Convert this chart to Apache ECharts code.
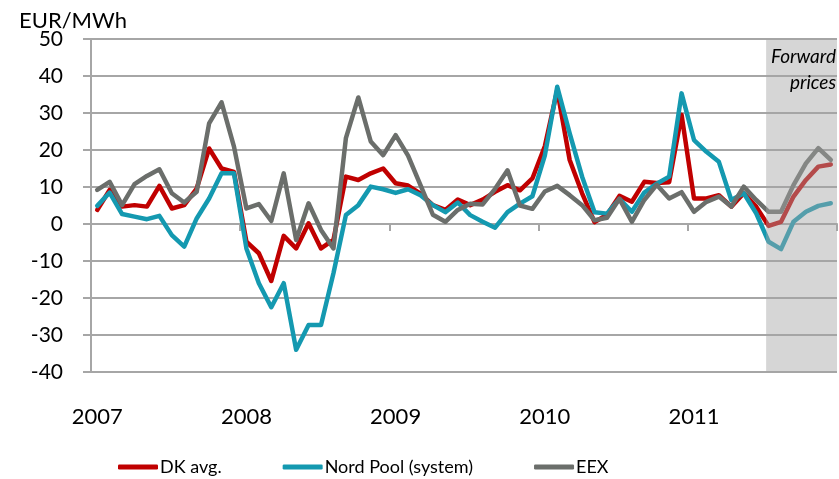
<!DOCTYPE html>
<html>
<head>
<meta charset="utf-8">
<script src="https://cdn.jsdelivr.net/npm/echarts@6/dist/echarts.min.js"></script>
<style>
    html, body { margin: 0; padding: 0; background: #fff; }
    #main { width: 839px; height: 479px; }
</style>
</head>
<body>
<div id="main"></div>
<script>
// years shown on the x axis, one category per month
var years = ['2007', '2008', '2009', '2010', '2011'];
var months = [];
for (var y = 0; y < years.length; y++) {
    for (var m = 1; m <= 12; m++) {
        months.push(years[y] + '-' + (m < 10 ? '0' + m : m));
    }
}

var yTicks = [-40, -30, -20, -10, 0, 10, 20, 30, 40, 50];

// DK avg. (EUR/MWh)
var dkAvg = [
    3.8, 9.2, 4.7, 5.1, 4.7, 10.3, 4.2, 5.1, 9.6, 20.4, 15.0, 14.1,
    -4.8, -7.9, -15.4, -3.2, -6.6, 0.2, -6.6, -4.3, 12.8, 11.9, 13.7, 15.0,
    11.0, 10.4, 8.2, 5.1, 3.8, 6.6, 5.1, 6.6, 8.7, 10.5, 9.1, 12.3,
    21.0, 36.2, 17.3, 8.3, 0.5, 2.5, 7.6, 6.0, 11.4, 11.1, 11.3, 29.5,
    6.9, 6.9, 7.8, 4.7, 8.3, 4.7, -0.5, 0.6, 7.4, 11.9, 15.5, 16.1
];
// Nord Pool (system)
var nordPool = [
    4.9, 8.5, 2.7, 2.0, 1.3, 2.2, -3.0, -6.1, 1.5, 6.9, 13.7, 13.7,
    -6.6, -16.0, -22.5, -16.0, -34.0, -27.3, -27.3, -13.3, 2.4, 5.1, 10.1, 9.4,
    8.4, 9.4, 7.8, 5.1, 3.2, 5.8, 2.4, 0.6, -1.0, 3.2, 5.5, 7.5,
    18.5, 37.1, 24.5, 12.8, 3.2, 2.8, 6.8, 3.3, 8.5, 10.9, 12.8, 35.3,
    22.7, 19.5, 16.8, 6.5, 8.3, 2.9, -4.8, -6.8, 0.6, 3.3, 4.9, 5.6
];
// EEX
var eex = [
    9.2, 11.4, 5.1, 10.8, 13.0, 14.8, 8.3, 5.8, 8.7, 27.2, 32.9, 20.9,
    4.2, 5.4, 0.8, 13.7, -4.3, 5.6, -1.6, -6.6, 23.2, 34.2, 22.3, 18.6,
    24.0, 18.5, 10.5, 2.5, 0.6, 3.8, 5.5, 5.3, 9.5, 14.5, 5.0, 4.1,
    8.8, 10.3, 7.8, 5.1, 1.0, 1.7, 6.8, 0.6, 6.5, 10.6, 6.9, 8.6,
    3.3, 6.0, 7.4, 4.7, 10.1, 6.5, 3.3, 3.3, 10.5, 16.4, 20.5, 17.3
];
// forward period, in months from Jan 2007
var forwardFrom = 54.3;
var forwardTo = 60;

var seriesNames = ['DK avg.', 'Nord Pool (system)', 'EEX'];
var colors = ['#c00000', '#1499b0', '#6b6e6b'];
var fontFamily = 'Lato';
var gridColor = '#a6a6a6';

var myChart = echarts.init(document.getElementById('main'));

function lineSeries(name, data, color) {
    return {
        name: name,
        type: 'line',
        data: data,
        showSymbol: false,
        symbol: 'none',
        color: color,
        lineStyle: { width: 4.5, color: color, cap: 'round', join: 'round' },
        z: 3
    };
}

var option = {
    animation: false,
    color: colors,
    textStyle: { fontFamily: fontFamily },
    grid: { left: 91, right: 2, top: 39, bottom: 107, containLabel: false },
    graphic: [
        {
            type: 'text',
            left: 19,
            top: 10,
            z: 20,
            style: { text: 'EUR/MWh', font: '22px Lato', fill: '#000' }
        },
        {
            type: 'text',
            right: 3,
            top: 47,
            z: 20,
            style: { text: 'Forward', font: 'italic 19px Lato', fill: '#000' }
        },
        {
            type: 'text',
            right: 3,
            top: 73,
            z: 20,
            style: { text: 'prices', font: 'italic 19px Lato', fill: '#000' }
        }
    ],
    legend: {
        data: seriesNames,
        left: 113,
        top: 453,
        icon: 'roundRect',
        itemWidth: 40,
        itemHeight: 5,
        itemGap: 61,
        textStyle: { fontFamily: fontFamily, fontSize: 18, color: '#000', padding: [0, 0, 0, -3] }
    },
    xAxis: [
        {
            type: 'category',
            data: months,
            position: 'bottom',
            boundaryGap: true,
            axisLine: { show: false, onZero: false },
            axisTick: { show: false },
            axisLabel: {
                interval: 11,
                margin: 34,
                fontSize: 22,
                color: '#000',
                formatter: function (v) { return v.slice(0, 4); }
            }
        },
        {
            type: 'category',
            data: months,
            position: 'bottom',
            boundaryGap: true,
            axisLine: { show: true, onZero: true, onZeroAxisIndex: 0, lineStyle: { color: gridColor, width: 2 } },
            axisTick: { show: true, interval: 11, length: 7, lineStyle: { color: gridColor, width: 2 } },
            axisLabel: { show: false }
        },
        {
            type: 'value',
            min: 0,
            max: 60,
            show: false
        }
    ],
    yAxis: {
        type: 'value',
        min: yTicks[0],
        max: yTicks[yTicks.length - 1],
        interval: 10,
        axisLine: { show: true, onZero: false, lineStyle: { color: gridColor, width: 2 } },
        axisTick: { show: true, length: 8, lineStyle: { color: gridColor, width: 2 } },
        splitLine: { show: true, lineStyle: { color: gridColor, width: 2 } },
        axisLabel: { margin: 28, fontSize: 21, color: '#000' }
    },
    series: [
        lineSeries(seriesNames[0], dkAvg, colors[0]),
        lineSeries(seriesNames[1], nordPool, colors[1]),
        lineSeries(seriesNames[2], eex, colors[2]),
        {
            // shade over the forward period, drawn above the lines
            type: 'line',
            xAxisIndex: 2,
            data: [],
            z: 10,
            markArea: {
                silent: true,
                z: 10,
                itemStyle: { color: 'rgba(165,165,165,0.455)' },
                data: [[{ xAxis: forwardFrom }, { xAxis: forwardTo }]]
            }
        }
    ]
};

if (option && typeof option === "object") {
    myChart.setOption(option, true);
}
</script>
</body>
</html>
